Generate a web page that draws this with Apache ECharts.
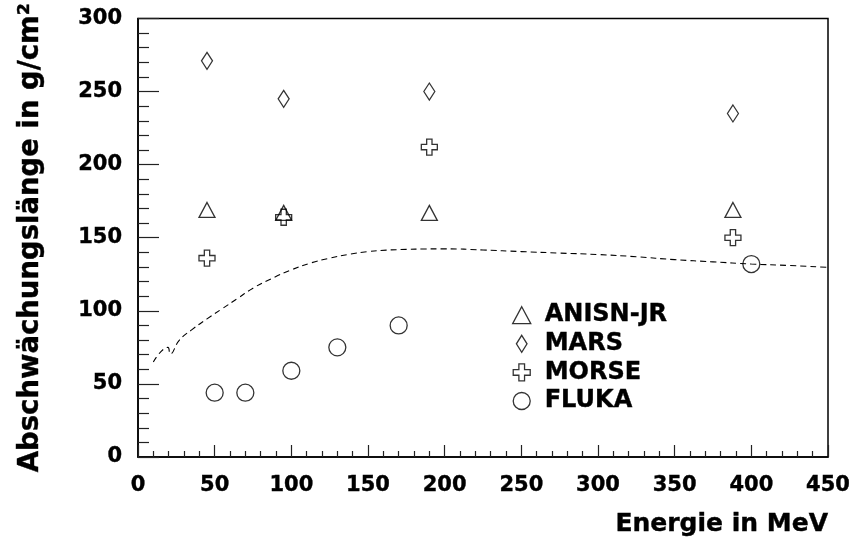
<!DOCTYPE html>
<html>
<head>
<meta charset="utf-8">
<script src="https://cdn.jsdelivr.net/npm/echarts@6/dist/echarts.min.js"></script>
<style>
html,body{margin:0;padding:0;background:#fff;}
#chart{width:855px;height:543px;}
</style>
</head>
<body>
<div id="chart"></div>
<script>
// ---- data ----
var codeX = [45, 95, 190, 388];
var anisnY = [169, 167, 167, 169];
var marsY = [271, 245, 250, 235];
var morseY = [136, 164, 212, 150];
var flukaX = [50, 70, 100, 130, 170, 400];
var flukaY = [44, 44, 59, 75, 90, 132];
var curveX = [10, 19.5, 21, 27, 35, 45, 55, 65, 75, 87, 100, 112, 125, 137, 150, 162, 175, 187, 200, 225, 250, 275, 300, 325, 350, 375, 400, 425, 450];
var curveY = [65, 75, 70.5, 80, 87, 94.5, 101.5, 108.5, 115.5, 122, 128, 132.5, 136, 138.5, 140.5, 141.5, 142, 142.3, 142.4, 141.6, 140.5, 139.5, 138.5, 137, 135, 133.5, 132, 131, 129.7];
var seriesNames = ['ANISN-JR', 'MARS', 'MORSE', 'FLUKA'];
var xTitle = 'Energie in MeV';
var yTitle = 'Abschwächungslänge in g/cm²';

function pairs(xs, ys) { return xs.map(function (x, i) { return [x, ys[i]]; }); }

var FONT = 'DejaVu Sans';
var crossPath = 'path://M1,0 H2 V1 H3 V2 H2 V3 H1 V2 H0 V1 H1 Z';
var diamondPath = 'path://M5,0 L10,8 L5,16 L0,8 Z';
var trianglePath = 'path://M8,0 L16,15 L0,15 Z';
var hollow = { color: 'rgba(0,0,0,0)', borderColor: '#000', borderWidth: 1.3 };
var heavy = { textBorderColor: '#000', textBorderWidth: 0.4 };

var chart = echarts.init(document.getElementById('chart'), null, { renderer: 'canvas' });
chart.setOption({
  backgroundColor: '#fff',
  animation: false,
  grid: { left: 138, top: 18, right: 27, bottom: 86, show: true, borderColor: '#000', borderWidth: 1.5, backgroundColor: 'transparent' },
  xAxis: {
    type: 'value', min: 0, max: 450, interval: 50,
    axisLine: { show: true, onZero: false, lineStyle: { color: '#000', width: 1.5 } },
    axisTick: { show: true, inside: true, length: 12, lineStyle: { color: '#222', width: 1.2 } },
    minorTick: { show: true, splitNumber: 5, length: 6, lineStyle: { color: '#222', width: 1.2 } },
    splitLine: { show: false },
    axisLabel: Object.assign({ margin: 18, color: '#000', fontFamily: FONT, fontWeight: 'bold', fontSize: 21 }, heavy),
    name: xTitle, nameLocation: 'end', nameGap: 0,
    nameTextStyle: Object.assign({ color: '#000', fontFamily: FONT, fontWeight: 'bold', fontSize: 25, align: 'right', verticalAlign: 'top', padding: [55, 0, 0, 0] }, heavy)
  },
  yAxis: {
    type: 'value', min: 0, max: 300, interval: 50,
    axisLine: { show: true, onZero: false, lineStyle: { color: '#000', width: 1.5 } },
    axisTick: { show: true, inside: true, length: 21, lineStyle: { color: '#222', width: 1.2 } },
    minorTick: { show: true, splitNumber: 5, length: 11, lineStyle: { color: '#222', width: 1.2 } },
    splitLine: { show: false },
    axisLabel: Object.assign({ margin: 16, color: '#000', fontFamily: FONT, fontWeight: 'bold', fontSize: 21 }, heavy),
    name: yTitle, nameLocation: 'middle', nameRotate: 90, nameGap: 93,
    nameTextStyle: Object.assign({ color: '#000', fontFamily: FONT, fontWeight: 'bold', fontSize: 27.5 }, heavy)
  },
  legend: {
    orient: 'vertical', left: 512, top: 303, padding: 0, itemWidth: 36, itemHeight: 17, itemGap: 4.2,
    textStyle: Object.assign({ color: '#000', fontFamily: FONT, fontWeight: 'bold', fontSize: 24 }, heavy),
    data: [
      { name: seriesNames[0], icon: trianglePath },
      { name: seriesNames[1], icon: diamondPath },
      { name: seriesNames[2], icon: crossPath },
      { name: seriesNames[3], icon: 'circle' }
    ],
    itemStyle: hollow
  },
  series: [
    { name: 'curve', type: 'line', data: pairs(curveX, curveY), showSymbol: false, symbol: 'none', smooth: 0.5,
      lineStyle: { color: '#000', width: 1.1, type: [6, 4] }, silent: true, z: 1 },
    { name: seriesNames[0], type: 'scatter', data: pairs(codeX, anisnY), symbol: trianglePath, symbolSize: [16, 15], itemStyle: hollow, z: 3 },
    { name: seriesNames[1], type: 'scatter', data: pairs(codeX, marsY), symbol: diamondPath, symbolSize: [11, 17], itemStyle: hollow, z: 3 },
    { name: seriesNames[2], type: 'scatter', data: pairs(codeX, morseY), symbol: crossPath, symbolSize: 16, itemStyle: hollow, z: 3 },
    { name: seriesNames[3], type: 'scatter', data: pairs(flukaX, flukaY), symbol: 'circle', symbolSize: 17, itemStyle: hollow, z: 3 }
  ]
});
</script>
</body>
</html>
